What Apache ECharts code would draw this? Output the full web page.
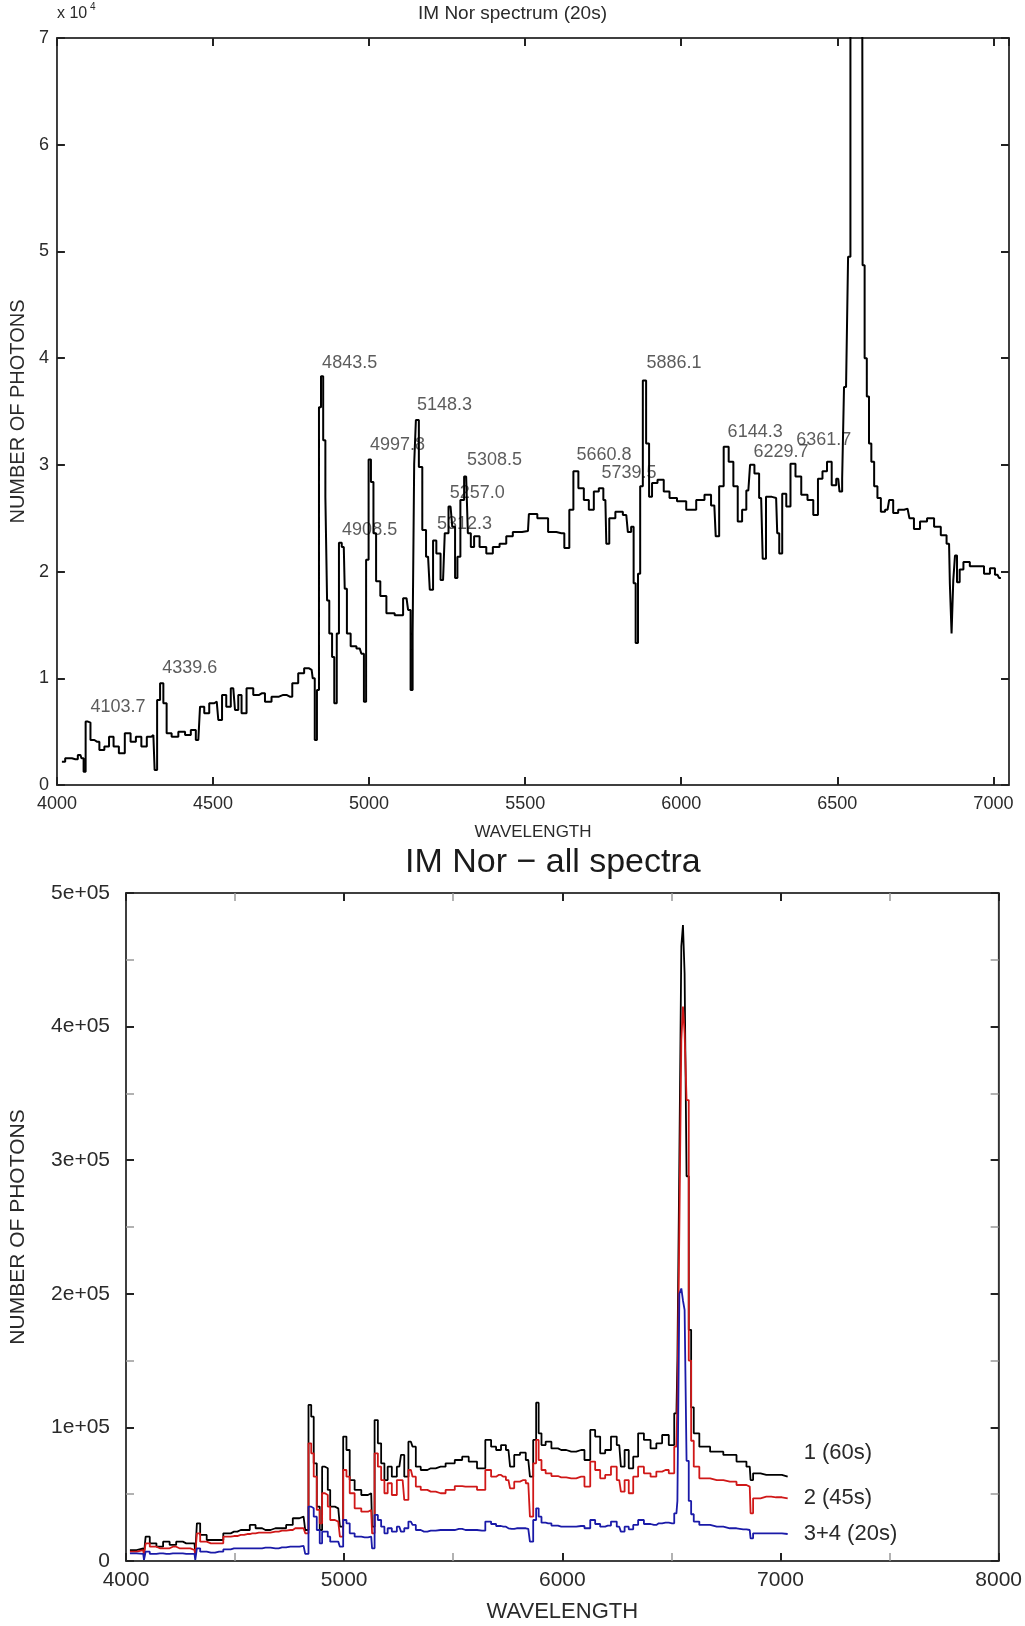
<!DOCTYPE html>
<html>
<head>
<meta charset="utf-8">
<title>IM Nor spectra</title>
<script src="https://cdn.jsdelivr.net/npm/echarts@6/dist/echarts.min.js"></script>
<style>
  html, body { margin: 0; padding: 0; background: #fff; }
  #main { width: 1025px; height: 1626px; }
</style>
</head>
<body>
<div id="main"></div>
<script>
// top panel: IM Nor spectrum (20s), [wavelength, photons]
const topSpectrum = [
  [4016, 2190], [4037, 2500], [4059, 2410], [4075, 2820], [4083, 2500], [4088, 1250], [4096, 5940], [4103, 5850],
  [4112, 4220], [4128, 4060], [4144, 3280], [4160, 3600], [4174, 4530], [4189, 3600], [4208, 2970], [4227, 4840],
  [4245, 4060], [4261, 4530], [4280, 3600], [4296, 4530], [4309, 4690], [4317, 1410], [4325, 7970], [4336, 9530],
  [4346, 7660], [4357, 4840], [4378, 4530], [4400, 5000], [4421, 4690], [4437, 5160], [4453, 4220], [4464, 7340],
  [4480, 6720], [4496, 7660], [4512, 7810], [4522, 6090], [4536, 8440], [4549, 7340], [4565, 9060], [4576, 7030],
  [4586, 8440], [4597, 6720], [4618, 9060], [4640, 8440], [4656, 8590], [4677, 7810], [4698, 8280], [4725, 8440],
  [4746, 8280], [4762, 9530], [4784, 10470], [4800, 10930], [4816, 10780], [4823, 10000], [4829, 4220], [4837, 8900],
  [4842, 35400], [4850, 38300], [4856, 32300], [4864, 27000], [4867, 17300], [4878, 14200], [4885, 12000], [4892, 7650],
  [4901, 14200], [4906, 22700], [4919, 22300], [4925, 18400], [4933, 14200], [4949, 13000], [4970, 12800], [4981, 12300],
  [4986, 7810], [4995, 21100], [5002, 30500], [5010, 28400], [5018, 23600], [5027, 19100], [5045, 17700], [5066, 16100],
  [5098, 15900], [5120, 17500], [5130, 16400], [5136, 8900], [5143, 14200], [5146, 30100], [5154, 34200], [5165, 29800],
  [5176, 23900], [5189, 21400], [5200, 18300], [5210, 22900], [5221, 21700], [5237, 19200], [5248, 23600], [5261, 26100],
  [5272, 24200], [5279, 19400], [5287, 21400], [5298, 26700], [5311, 28900], [5322, 23600], [5330, 22300], [5343, 23300],
  [5365, 22300], [5386, 21700], [5407, 22300], [5429, 22600], [5450, 23300], [5471, 23700], [5509, 23800], [5515, 25400],
  [5563, 25000], [5584, 23700], [5616, 23600], [5635, 22200], [5648, 25800], [5661, 29400], [5680, 27800], [5696, 26700],
  [5712, 25800], [5728, 27500], [5744, 27800], [5757, 26700], [5763, 22600], [5776, 25000], [5802, 25600], [5824, 25300],
  [5834, 23700], [5845, 24200], [5850, 18900], [5858, 13300], [5865, 19800], [5872, 28000], [5882, 37900], [5893, 32000],
  [5901, 27000], [5912, 28300], [5936, 28600], [5952, 27500], [5973, 26900], [6000, 26600], [6032, 25800], [6064, 26700],
  [6085, 27200], [6106, 26200], [6115, 23300], [6128, 28000], [6144, 31700], [6160, 30300], [6174, 28000], [6188, 24700],
  [6202, 25800], [6215, 27600], [6226, 30000], [6243, 29200], [6256, 26900], [6266, 21200], [6277, 27000], [6304, 26900],
  [6311, 23600], [6317, 21700], [6330, 27300], [6343, 26100], [6357, 30100], [6375, 28900], [6394, 27200], [6415, 26700],
  [6431, 25300], [6445, 28700], [6460, 29400], [6474, 30300], [6490, 28100], [6503, 28700], [6511, 27500], [6520, 28700],
  [6523, 37300], [6533, 37300], [6536, 49500], [6540, 49500], [6544, 150000], [6556, 204000], [6578, 120000], [6584, 48700],
  [6591, 40000], [6598, 36400], [6605, 32000], [6613, 30300], [6623, 28000], [6634, 26900], [6645, 25600], [6661, 25800],
  [6671, 26700], [6687, 25500], [6703, 25800], [6725, 25900], [6737, 25000], [6754, 24000], [6776, 24700], [6799, 25000],
  [6821, 24200], [6842, 23400], [6858, 22600], [6863, 18900], [6869, 14200], [6874, 19200], [6880, 21500], [6887, 19000],
  [6897, 20200], [6911, 20900], [6938, 20500], [6959, 20500], [6981, 19800], [6997, 20300], [7013, 19700], [7024, 19400]
];

// line identifications written on the top panel
const peakLabelText = ['4103.7', '4339.6', '4843.5', '5148.3', '4997.8', '5308.5', '5257.0', '4908.5',
  '5312.3', '5660.8', '5739.5', '5886.1', '6144.3', '6229.7', '6361.7'];
const peakLabelWave = [4106, 4336, 4848, 5152, 5001, 5312, 5257, 4912, 5216, 5663, 5743, 5887, 6147, 6230, 6367];
const peakLabelFlux = [7310, 10960, 39540, 35610, 31860, 30450, 27360, 23890, 24460, 30920, 29230, 39540, 33080, 31200, 32330];

// bottom panel: all spectra on a shared wavelength grid
const allWave = [
  4018, 4079, 4086, 4094, 4124, 4155, 4185, 4215, 4245, 4276,
  4314, 4321, 4329, 4351, 4389, 4427, 4465, 4495, 4526, 4556,
  4579, 4609, 4639, 4685, 4715, 4753, 4776, 4814, 4829, 4844,
  4854, 4867, 4882, 4894, 4904, 4920, 4930, 4942, 4973, 4988,
  5003, 5018, 5033, 5063, 5094, 5124, 5132, 5147, 5162, 5177,
  5192, 5207, 5230, 5253, 5268, 5283, 5306, 5321, 5336, 5366,
  5397, 5442, 5488, 5526, 5556, 5586, 5632, 5662, 5685, 5708,
  5730, 5753, 5768, 5791, 5821, 5844, 5859, 5874, 5886, 5897,
  5912, 5935, 5965, 5995, 6041, 6086, 6117, 6139, 6162, 6185,
  6208, 6238, 6261, 6276, 6295, 6314, 6336, 6359, 6389, 6420,
  6442, 6473, 6503, 6523, 6532, 6541, 6550, 6556, 6565, 6574,
  6585, 6596, 6609, 6647, 6708, 6768, 6829, 6859, 6867, 6882,
  6935, 6980, 7033
];
const spec60s = [
  8200, 9500, 5700, 18200, 13200, 10700, 14500, 12000, 14500, 13200,
  13200, 5700, 28200, 19500, 15700, 15700, 20700, 22000, 23200, 23200,
  27000, 24500, 23200, 24500, 24500, 27000, 32000, 33200, 23200, 116800,
  108000, 73100, 40700, 23200, 70600, 69400, 53200, 40700, 39400, 25700,
  93100, 83100, 60600, 53200, 49400, 50700, 25700, 105500, 88100, 73100,
  60600, 70600, 63100, 70600, 79400, 63100, 89300, 85600, 70600, 68100,
  69400, 70600, 73100, 75600, 78100, 74400, 69400, 90600, 85600, 83100,
  86800, 83100, 70600, 79400, 81100, 75600, 63100, 90600, 118500, 95600,
  86800, 89300, 84300, 83100, 81800, 83100, 75600, 98100, 93100, 80600,
  83100, 93100, 86800, 70600, 83100, 69400, 78100, 95600, 90600, 84300,
  88100, 94300, 86800, 110500, 150000, 302000, 460000, 476000, 440000, 288000,
  173000, 115000, 95600, 85600, 81800, 79400, 74400, 70600, 60600, 65600,
  64400, 64400, 63100
];
const spec45s = [
  7000, 8200, 4500, 13200, 10700, 9500, 9500, 10700, 9500, 9500,
  8200, 4500, 20700, 14500, 13200, 13200, 18200, 18700, 19500, 20200,
  20700, 21200, 21200, 22000, 22700, 23200, 24500, 24500, 20700, 88100,
  80600, 63100, 38200, 28200, 50700, 49400, 40700, 30700, 29500, 18200,
  68100, 63100, 50700, 39400, 36900, 38200, 20700, 80600, 70600, 60600,
  50700, 58200, 49400, 60600, 60600, 45700, 68100, 63100, 55700, 53200,
  51900, 50700, 53200, 56100, 55700, 55700, 53200, 68100, 63100, 64400,
  63100, 60600, 54400, 59400, 60600, 58200, 33200, 73100, 90600, 75600,
  68100, 65600, 63600, 62600, 61900, 63100, 55700, 74400, 68100, 61900,
  64400, 70600, 60600, 51900, 60600, 50700, 63100, 70600, 65600, 63100,
  66900, 68100, 65600, 85600, 120000, 250000, 390000, 415000, 395000, 345000,
  150000, 90000, 70600, 61900, 60600, 59400, 56900, 55700, 35700, 46900,
  48200, 47700, 46900
];
const spec20s = [
  5700, 5300, 800, 7000, 5300, 5700, 5300, 5700, 5700, 5300,
  5300, 800, 9500, 7000, 6200, 7000, 8700, 9500, 9500, 9500,
  9500, 9500, 10000, 9500, 10200, 10700, 10700, 11300, 5300, 40700,
  39400, 33200, 23200, 13200, 22000, 22000, 18200, 14500, 14500, 10700,
  30700, 28200, 20700, 18200, 17700, 18200, 9500, 34500, 30700, 25700,
  20700, 24500, 22000, 25700, 22000, 24500, 29500, 27000, 23200, 22000,
  22700, 23200, 23200, 24000, 23200, 23200, 22700, 29500, 27700, 26200,
  25700, 24500, 24000, 24500, 24500, 24000, 14500, 30700, 39400, 33200,
  28700, 28200, 26500, 25700, 25700, 26200, 24500, 30700, 27700, 25700,
  26500, 29500, 25700, 22000, 25700, 23700, 27000, 30700, 27700, 27000,
  28200, 28700, 28200, 35700, 45000, 200000, 204000, 195000, 188000, 75000,
  45000, 35000, 29500, 27000, 25700, 24500, 23700, 23200, 17000, 20700,
  20700, 20700, 20200
];
const allNames = ['1 (60s)', '2 (45s)', '3+4 (20s)'];
const allColors = ['#000000', '#d01818', '#1a1aa8'];
const allLabelOffset = [-24, 0, 0];

const FONT = '"Liberation Sans", Arial, Helvetica, sans-serif';
const TXT = '#2a2a2a';

const chart = echarts.init(document.getElementById('main'), null, { renderer: 'canvas' });

function frameAxis(extra) {
  // shared look of every axis (frame line + inward ticks)
  return Object.assign({
    type: 'value',
    axisLine: { show: true, onZero: false, lineStyle: { color: '#333', width: 1.5 } },
    axisTick: { show: true, inside: true, length: 8, lineStyle: { color: '#222', width: 2 } },
    splitLine: { show: false },
    axisLabel: { show: false }
  }, extra);
}

const plain = v => String(v);
const topLabelStyle = { show: true, color: TXT, fontSize: 18, fontFamily: FONT };
const botLabelStyle = { show: true, color: TXT, fontSize: 21, fontFamily: FONT };
const botMinor = { show: true, splitNumber: 2, length: 8, lineStyle: { color: '#999', width: 1.5 } };

function sci(v) {
  if (v === 0) return '0';
  const e = Math.floor(Math.log10(v));
  const m = v / Math.pow(10, e);
  return m + 'e+' + String(e).padStart(2, '0');
}

const option = {
  animation: false,
  backgroundColor: '#fff',
  textStyle: { fontFamily: FONT },
  grid: [
    { left: 55, top: 38, width: 954, height: 747, show: true, borderColor: '#333', borderWidth: 1.5 },
    { left: 126, top: 893, width: 878, height: 668, show: true, borderColor: '#333', borderWidth: 1.5 }
  ],
  graphic: [
    { type: 'text', left: 418, top: 4, style: { text: 'IM Nor spectrum (20s)', fill: TXT, font: '19px ' + FONT } },
    { type: 'text', left: 57, top: 6, style: { text: 'x 10', fill: TXT, font: '16px ' + FONT } },
    { type: 'text', left: 90, top: 2, style: { text: '4', fill: TXT, font: '10px ' + FONT } },
    { type: 'text', left: 405, top: 846, style: { text: 'IM Nor \u2212 all spectra', fill: '#1a1a1a', font: '34px ' + FONT } }
  ],
  xAxis: [
    frameAxis({
      gridIndex: 0, position: 'bottom', min: 4000, max: 7050, interval: 500,
      axisLabel: Object.assign({ margin: 10, showMaxLabel: false, formatter: plain }, topLabelStyle),
      name: 'WAVELENGTH', nameLocation: 'middle', nameGap: 39,
      nameTextStyle: { color: TXT, fontSize: 17, fontFamily: FONT }
    }),
    frameAxis({ gridIndex: 0, position: 'top', min: 4000, max: 7050, interval: 500 }),
    frameAxis({
      gridIndex: 1, position: 'bottom', min: 4000, max: 8000, interval: 1000,
      minorTick: botMinor,
      axisLabel: Object.assign({ margin: 9, formatter: plain }, botLabelStyle),
      name: 'WAVELENGTH', nameLocation: 'middle', nameGap: 40,
      nameTextStyle: { color: TXT, fontSize: 22, fontFamily: FONT }
    }),
    frameAxis({ gridIndex: 1, position: 'top', min: 4000, max: 8000, interval: 1000, minorTick: botMinor })
  ],
  yAxis: [
    frameAxis({
      gridIndex: 0, position: 'left', min: 0, max: 70000, interval: 10000,
      axisLabel: Object.assign({ margin: 8, formatter: v => String(v / 10000) }, topLabelStyle),
      name: 'NUMBER OF PHOTONS', nameLocation: 'middle', nameGap: 28, nameRotate: 90,
      nameTextStyle: { color: TXT, fontSize: 20, fontFamily: FONT }
    }),
    frameAxis({ gridIndex: 0, position: 'right', min: 0, max: 70000, interval: 10000 }),
    frameAxis({
      gridIndex: 1, position: 'left', min: 0, max: 500000, interval: 100000,
      minorTick: botMinor,
      axisLabel: Object.assign({ margin: 16, formatter: sci }, botLabelStyle),
      name: 'NUMBER OF PHOTONS', nameLocation: 'middle', nameGap: 97, nameRotate: 90,
      nameTextStyle: { color: TXT, fontSize: 21, fontFamily: FONT }
    }),
    frameAxis({ gridIndex: 1, position: 'right', min: 0, max: 500000, interval: 100000, minorTick: botMinor })
  ],
  series: [
    {
      type: 'line', xAxisIndex: 0, yAxisIndex: 0, data: topSpectrum,
      step: 'middle', showSymbol: false, clip: true, silent: true,
      lineStyle: { color: '#000', width: 2 }
    },
    {
      type: 'scatter', xAxisIndex: 0, yAxisIndex: 0, silent: true, symbolSize: 1,
      itemStyle: { color: 'rgba(0,0,0,0)' },
      data: peakLabelText.map((t, i) => ({ name: t, value: [peakLabelWave[i], peakLabelFlux[i]] })),
      label: { show: true, position: 'right', distance: 0, formatter: '{b}', color: '#333', fontSize: 18, fontFamily: FONT }
    }
  ].concat([spec60s, spec45s, spec20s].map((vals, k) => ({
    type: 'line', name: allNames[k], xAxisIndex: 2, yAxisIndex: 2,
    data: allWave.map((w, i) => [w, vals[i]]),
    step: 'middle', showSymbol: false, clip: true, silent: true,
    lineStyle: { color: allColors[k], width: 1.8 },
    endLabel: {
      show: true, formatter: '{a}', distance: 16, offset: [0, allLabelOffset[k]],
      color: TXT, fontSize: 22, fontFamily: FONT
    }
  })))
};

chart.setOption(option);
window.onresize = function () {
  chart.resize();
};
</script>
</body>
</html>
